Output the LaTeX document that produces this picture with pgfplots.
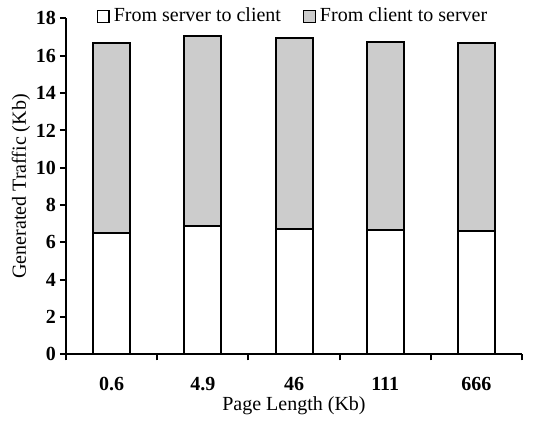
\documentclass[border=0pt]{standalone}
\usepackage{fontspec}
\setmainfont{Liberation Serif}
\usepackage{pgfplots}
\pgfplotsset{compat=1.18}
\definecolor{barg}{HTML}{CCCCCC}
\begin{document}
\fontsize{10}{12}\selectfont
\begin{tikzpicture}
\begin{axis}[
  name=ax,
  scale only axis,
  width=228pt, height=168pt,
  ybar stacked,
  bar width=18.5pt,
  xmin=-0.5, xmax=4.5,
  ymin=0, ymax=18,
  ytick={0,2,...,18},
  xtick={0,...,4},
  xticklabels={0.6,4.9,46,111,666},
  minor xtick={-0.5,0.5,...,4.5},
  axis lines*=left,
  axis line style={line width=1pt},
  major x tick style={draw=none},
  tick style={line width=1pt, black},
  tick align=outside,
  major tick length=3pt, minor tick length=3pt,
  ticklabel style={font=\fontsize{10}{12}\selectfont\bfseries},
  /pgf/number format/assume math mode=true,
  xticklabel style={yshift=-5pt},
  yticklabel style={xshift=1.5pt},
  xlabel={Page Length (Kb)},
  ylabel={Generated Traffic (Kb)},
  xlabel shift=-4pt,
  ylabel shift=-4pt,
  label style={font=\fontsize{10}{12}\selectfont},
  legend columns=2,
  legend style={draw=none, fill=none, at={(0.5,1)}, anchor=center, yshift=1pt,
    font=\fontsize{10}{12}\selectfont,
    /tikz/every even column/.append style={column sep=9pt}},
  every axis plot post/.append style={
    legend image code/.code={\draw[#1, line width=0.7pt] (0pt,-2.9pt) rectangle (5.8pt,2.9pt);}},
]
\addplot[fill=white, draw=black, line width=1pt] coordinates {(0,6.5) (1,6.9) (2,6.7) (3,6.65) (4,6.6)};
\addplot[fill=barg, draw=black, line width=1pt] coordinates {(0,10.2) (1,10.15) (2,10.25) (3,10.1) (4,10.1)};
\legend{From server to client, From client to server}
\end{axis}
\path ([xshift=-33pt]ax.south west) (ax.south east) ++(13.5pt,0);
\end{tikzpicture}
\end{document}
